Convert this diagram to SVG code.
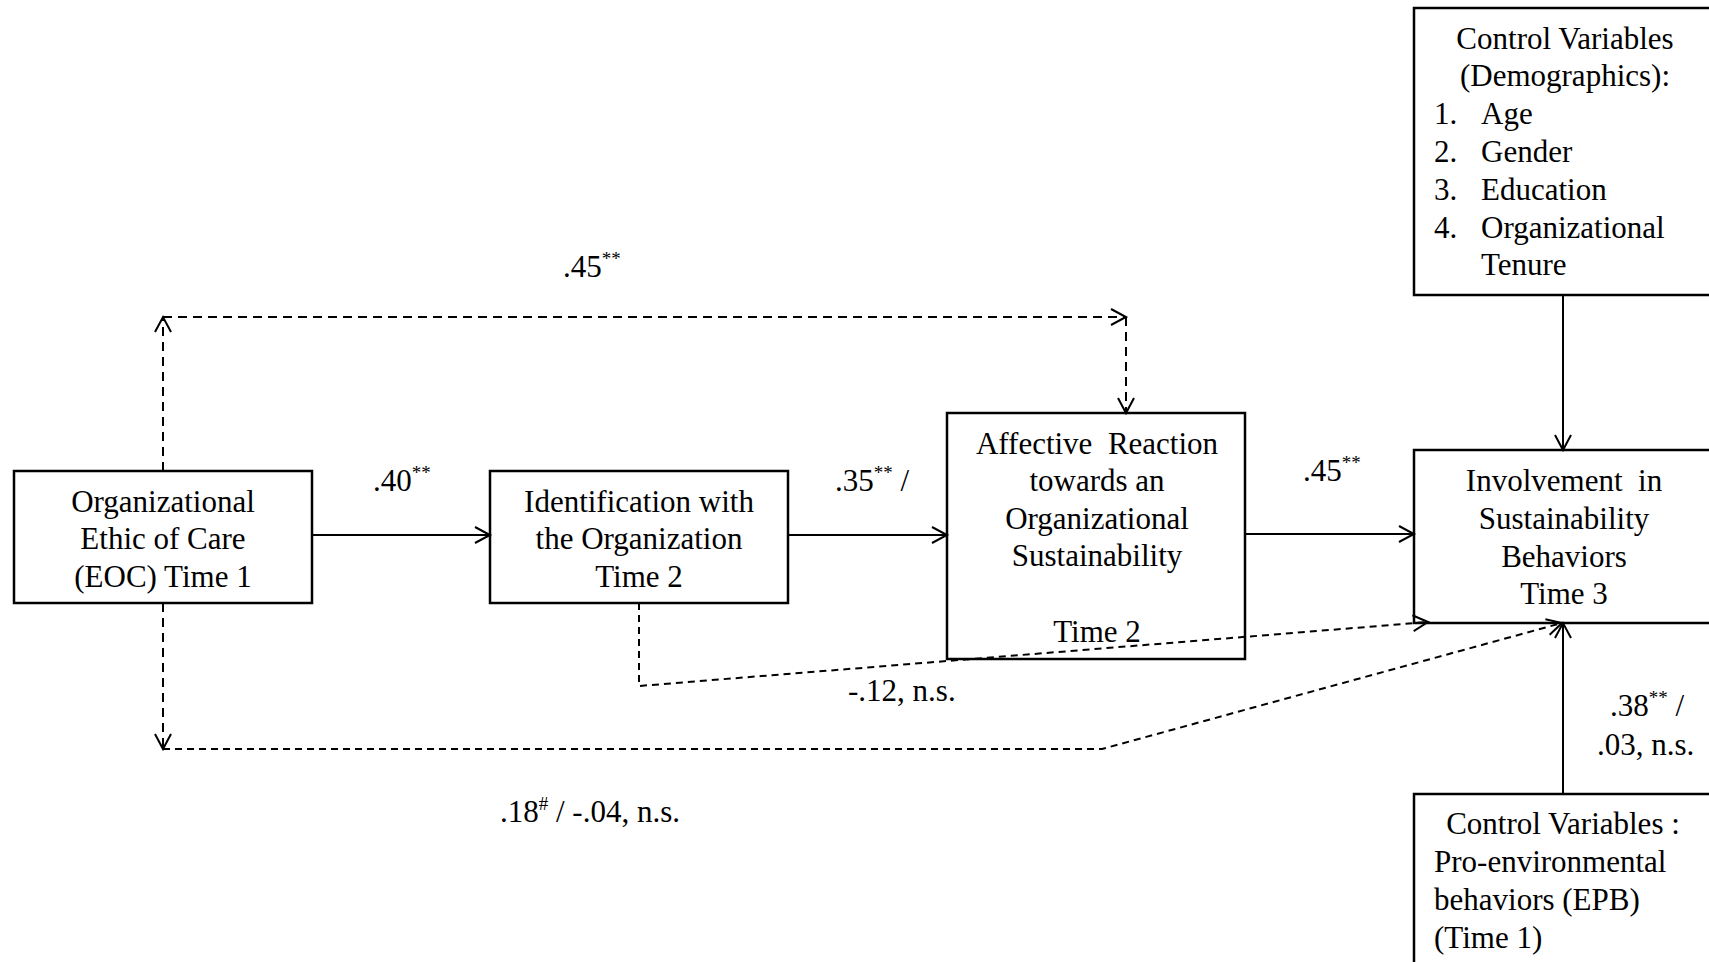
<svg xmlns="http://www.w3.org/2000/svg" width="1709" height="962" viewBox="0 0 1709 962">
<defs>
<style>
text{font-family:"Liberation Serif","Times New Roman",serif;font-size:31px;fill:#000}
.c{text-anchor:middle}
.box{fill:#fff;stroke:#000;stroke-width:2.5}
.ln{fill:none;stroke:#000;stroke-width:2}
.d1{stroke-dasharray:9 6}
.d2{stroke-dasharray:7 5}
.sup{font-size:19px}
</style>
<marker id="ah" markerUnits="userSpaceOnUse" markerWidth="20" markerHeight="20" refX="16" refY="9" orient="auto">
<path d="M1,1 L16,9 L1,17" fill="none" stroke="#000" stroke-width="2" stroke-dasharray="none"/>
</marker>
</defs>
<rect width="1709" height="962" fill="#fff"/>

<g id="eoc">
<rect class="box" x="14" y="471" width="298" height="132"/>
<text class="c" x="163" y="512">Organizational</text>
<text class="c" x="163" y="549">Ethic of Care</text>
<text class="c" x="163" y="587">(EOC) Time 1</text>
</g>

<g id="identification">
<rect class="box" x="490" y="471" width="298" height="132"/>
<text class="c" x="639" y="512">Identification with</text>
<text class="c" x="639" y="549">the Organization</text>
<text class="c" x="639" y="587">Time 2</text>
</g>

<g id="affective">
<rect class="box" x="947" y="413" width="298" height="246"/>
<text class="c" x="1097" y="454" xml:space="preserve">Affective  Reaction</text>
<text class="c" x="1097" y="491">towards an</text>
<text class="c" x="1097" y="529">Organizational</text>
<text class="c" x="1097" y="566">Sustainability</text>
<text class="c" x="1097" y="642">Time 2</text>
</g>

<g id="involvement">
<rect class="box" x="1414" y="450" width="302" height="173"/>
<text class="c" x="1564" y="491" xml:space="preserve">Involvement  in</text>
<text class="c" x="1564" y="529">Sustainability</text>
<text class="c" x="1564" y="567">Behaviors</text>
<text class="c" x="1564" y="604">Time 3</text>
</g>

<g id="demographics">
<rect class="box" x="1414" y="8" width="302" height="287"/>
<text class="c" x="1565" y="49">Control Variables</text>
<text class="c" x="1565" y="86">(Demographics):</text>
<text x="1434" y="124">1.</text><text x="1481" y="124">Age</text>
<text x="1434" y="162">2.</text><text x="1481" y="162">Gender</text>
<text x="1434" y="200">3.</text><text x="1481" y="200">Education</text>
<text x="1434" y="238">4.</text><text x="1481" y="238">Organizational</text>
<text x="1481" y="275">Tenure</text>
</g>

<g id="epb">
<rect class="box" x="1414" y="794" width="302" height="175"/>
<text class="c" x="1563" y="834">Control Variables :</text>
<text x="1434" y="872">Pro-environmental</text>
<text x="1434" y="910">behaviors (EPB)</text>
<text x="1434" y="948">(Time 1)</text>
</g>

<g id="connectors">
<line class="ln" x1="312" y1="535" x2="490" y2="535" marker-end="url(#ah)"/>
<line class="ln" x1="788" y1="535" x2="947" y2="535" marker-end="url(#ah)"/>
<line class="ln" x1="1245" y1="534" x2="1414" y2="534" marker-end="url(#ah)"/>
<line class="ln" x1="1563" y1="295" x2="1563" y2="450" marker-end="url(#ah)"/>
<line class="ln" x1="1563" y1="794" x2="1563" y2="623" marker-end="url(#ah)"/>

<line class="ln d1" x1="163" y1="471" x2="163" y2="317" marker-end="url(#ah)"/>
<line class="ln d1" x1="163" y1="317" x2="1126" y2="317" marker-end="url(#ah)"/>
<line class="ln d1" x1="1126" y1="317" x2="1126" y2="413" marker-end="url(#ah)"/>

<line class="ln d1" x1="163" y1="603" x2="163" y2="749" marker-end="url(#ah)"/>
<polyline class="ln d2" points="163,749 1102,749 1562,623" marker-end="url(#ah)"/>

<polyline class="ln d2" points="639,603 639,686 1428,622" marker-end="url(#ah)"/>
</g>

<g id="labels">
<text x="563" y="277">.45<tspan class="sup" dy="-12">**</tspan></text>
<text x="373" y="491">.40<tspan class="sup" dy="-12">**</tspan></text>
<text x="835" y="491">.35<tspan class="sup" dy="-12">**</tspan><tspan dy="12"> /</tspan></text>
<text x="1303" y="481">.45<tspan class="sup" dy="-12">**</tspan></text>
<text x="848" y="701">-.12, n.s.</text>
<text x="1610" y="716">.38<tspan class="sup" dy="-12">**</tspan><tspan dy="12"> /</tspan></text>
<text x="1597" y="755">.03, n.s.</text>
<text x="500" y="822">.18<tspan class="sup" dy="-12">#</tspan><tspan dy="12"> / -.04, n.s.</tspan></text>
</g>
</svg>
